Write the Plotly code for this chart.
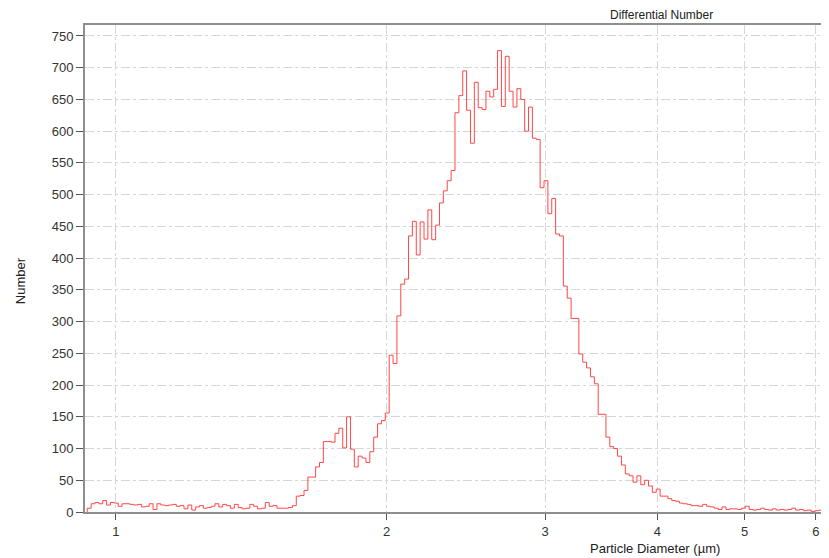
import numpy as np
import plotly.graph_objects as go

# Instrument channel definition (log-spaced bins)
first_edge_um = 0.9292
bin_ratio = 1.00996

# Differential number per channel
counts = [
    6, 13, 15, 13, 18, 11, 15, 14, 9, 13,
    13, 12, 11, 12, 8, 9, 13, 4, 13, 11,
    10, 11, 12, 9, 10, 5, 11, 3, 8, 10,
    6, 7, 9, 13, 8, 12, 10, 6, 12, 7,
    5, 6, 12, 9, 5, 6, 15, 9, 10, 6,
    6, 6, 7, 10, 25, 26, 34, 55, 55, 71,
    78, 111, 111, 110, 124, 132, 101, 150, 99, 71,
    88, 85, 78, 95, 118, 139, 144, 156, 247, 234,
    309, 359, 367, 435, 458, 405, 457, 430, 476, 429,
    452, 487, 506, 522, 538, 629, 656, 695, 633, 581,
    677, 637, 634, 663, 654, 666, 727, 639, 718, 663,
    638, 667, 650, 600, 638, 589, 587, 511, 522, 470,
    494, 438, 435, 356, 337, 305, 305, 249, 236, 227,
    213, 202, 154, 154, 118, 103, 100, 88, 74, 60,
    57, 47, 57, 43, 50, 41, 31, 36, 25, 25,
    21, 18, 17, 14, 13, 12, 10, 10, 9, 12,
    9, 8, 6, 4, 8, 4, 5, 5, 4, 6,
    9, 4, 3, 4, 6, 4, 3, 5, 3, 4,
    3, 4, 6, 3, 4, 2, 3, 1, 2, 3, 2, 2,
]

y_ticks = list(range(0, 751, 50))
x_ticks = [1, 2, 3, 4, 5, 6]
x_tick_labels = ["1", "2", "3", "4", "5", "6"]

edges = first_edge_um * bin_ratio ** np.arange(len(counts) + 1)
xs = [edges[0]] + list(edges[:-1]) + [edges[-1]]
ys = [0] + counts + [counts[-1]]

fig = go.Figure()
fig.add_trace(go.Scatter(
    x=xs, y=ys, mode="lines", line_shape="hv",
    line=dict(color="#ff4747", width=1), showlegend=False,
    hoverinfo="skip",
))

font_family = "Liberation Sans, Arial, sans-serif"
axis_col = "#8e8e8e"
grid_col = "#d6d6d6"

# page body has an 8px default margin, so the figure is sized to fit the window
fig.update_layout(
    width=821, height=550,
    margin=dict(l=77, r=0, t=17, b=46),
    paper_bgcolor="white", plot_bgcolor="white",
    font=dict(family=font_family, size=13, color="#333333"),
    showlegend=False,
)
fig.update_xaxes(
    type="log", range=[-0.0344, 0.7929],
    tickvals=x_ticks, ticktext=x_tick_labels,
    showline=True, linecolor=axis_col, linewidth=2, mirror=True,
    ticks="outside", ticklen=6, tickcolor="#555555", tickwidth=1,
    showgrid=True, gridcolor=grid_col, griddash="dashdot", gridwidth=1,
    zeroline=False, tickfont=dict(size=13, color="#333333"),
)
fig.update_yaxes(
    range=[0, 767.3],
    tickvals=y_ticks,
    showline=True, linecolor=axis_col, linewidth=2,
    ticks="outside", ticklen=7, tickcolor="#555555", tickwidth=1,
    showgrid=True, gridcolor=grid_col, griddash="dashdot", gridwidth=1,
    zeroline=False, tickfont=dict(size=13, color="#333333"),
)

fig.add_annotation(
    text="Differential Number", xref="paper", yref="paper",
    x=0.7755, y=1, xanchor="center", yanchor="bottom", yshift=1,
    showarrow=False, font=dict(size=12, color="#222222"),
)
fig.add_annotation(
    text="Number", xref="paper", yref="paper",
    x=-0.0874, y=0.476, xanchor="center", yanchor="middle",
    textangle=-90, showarrow=False, font=dict(size=13, color="#222222"),
)
fig.add_annotation(
    text="Particle Diameter (µm)", xref="paper", yref="paper",
    x=0.766, y=0, xanchor="center", yanchor="top", yshift=-27,
    showarrow=False, font=dict(size=13, color="#222222"),
)

fig.write_html("out.html")
